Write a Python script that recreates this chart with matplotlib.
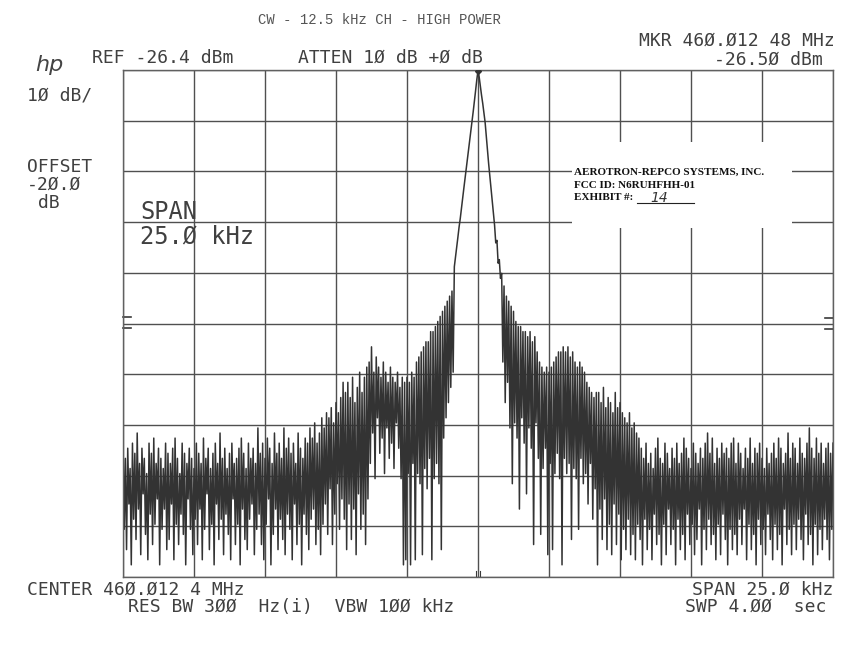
import numpy as np
import matplotlib
matplotlib.use('Agg')
from matplotlib import pyplot as plt
from matplotlib.patches import Rectangle

# analyzer settings
ref_level = -26.4      # dBm, top graticule line
db_per_div = 10
span_khz = 25.0

# trace levels in dBm, left to right across the sweep
left_floor = [
    -99, -117, -103, -121, -101, -112, -105, -124, -100, -115,
    -102, -119, -98, -113, -104, -122, -101, -110, -103, -118,
    -106, -123, -100, -114, -102, -120, -99, -116, -104, -111,
    -101, -124, -103, -117, -105, -113, -100, -121, -102, -119,
    -104, -112, -101, -123, -99, -116, -103, -120, -106, -114,
    -100, -118, -102, -124, -104, -111, -101, -117, -103, -122,
    -105, -115, -100, -120, -102, -113, -104, -123, -99, -117,
    -103, -110, -101, -121, -105, -116, -102, -124, -100, -112,
    -104, -119, -98, -115, -103, -122, -101, -114, -105, -118,
    -102, -123, -100, -111, -104, -120, -103, -116, -101, -124,
    -99, -113, -102, -119, -105, -121, -100, -115, -103, -112,
    -101, -122, -104, -117, -97, -114, -102, -120, -100, -123,
    -103, -116, -99, -111, -101, -124, -104, -118, -98, -113,
    -102, -121, -100, -115, -103, -119, -97, -122, -101, -114,
    -99, -117, -102, -123, -100, -112, -104, -120, -98, -116,
    -101, -124, -103, -114, -99, -118, -100, -121, -97, -115,
    -99, -113, -96, -120, -100, -117, -98, -122, -95, -116,
    -97,
]
left_shoulder = [
    -112, -94, -118, -95, -109, -93, -120, -96, -114, -92, -108, -94, -117, -91, -111, -88,
    -115, -90, -121, -88, -112, -91, -119, -87, -113, -92, -122, -89, -110, -86, -117, -90,
    -114, -87, -120, -85, -111,
    -84, -104, -81, -98, -86, -107, -83, -95, -85, -102, -87, -99, -84, -106, -86, -97,
    -88, -103, -85, -100, -87, -105, -88, -96, -86, -101, -89, -107, -87, -124, -88, -123,
    -87,
    -106, -88, -124, -86, -104, -87, -123, -84, -106, -83, -108, -82, -122, -81, -105, -80,
    -109, -80, -103, -78, -123, -78, -107, -77, -104, -76, -108, -75, -121, -74, -99, -73,
    -95, -72, -92, -71, -89, -70, -86,
]
main_lobe = [
    -65.2, -63.3, -61.3, -59.4, -57.4, -55.7, -53.7, -51.8, -49.8, -47.9,
    -46.0, -44.0, -42.2, -40.3, -38.4, -36.4, -34.5, -32.5, -30.4, -28.3,
    -26.5, -27.8, -29.6, -31.4, -33.0, -34.9, -36.7, -39.5, -42.2, -44.9,
    -47.3, -49.7, -52.2, -54.6, -57.0, -60.5, -60.0, -64.5, -63.8, -67.5,
    -66.5,
]
right_shoulder = [
    -84, -69, -92, -71, -88, -72, -97, -73, -108, -74,
    -96, -76, -99, -77, -113, -77, -95, -78, -100, -78,
    -110, -79, -97, -78, -101, -80, -120, -79, -96, -82,
    -103, -84, -118, -85, -105, -86, -101, -85, -122, -86,
    -104, -85, -121, -84, -106, -83, -102, -82, -107, -82,
    -124, -81, -103, -82, -106, -81, -104, -83, -119, -82,
    -105, -84, -107, -85, -117, -84, -103, -85, -108, -86,
    -106, -88, -112, -89, -104, -90, -115, -91, -109, -90,
    -124, -90, -113, -92, -119, -89, -111, -93, -121, -91,
    -116, -92, -122, -94, -112, -90, -120, -93, -114, -92,
    -123, -94, -117, -95, -121, -96, -115, -94, -122, -97,
    -118, -96, -123, -98, -116, -99,
]
right_floor = [
    -119, -101, -124, -103, -115, -100, -121, -104, -117, -102,
    -123, -105, -114, -101, -120, -99, -118, -103, -124, -104,
    -116, -100, -122, -102, -113, -105, -120, -101, -117, -103,
    -124, -100, -115, -104, -121, -102, -118, -99, -123, -101,
    -114, -103, -120, -105, -116, -100, -122, -102, -119, -104,
    -113, -101, -124, -103, -117, -100, -121, -98, -115, -102,
    -120, -99, -118, -104, -123, -101, -116, -103, -122, -100,
    -114, -102, -119, -101, -124, -103, -117, -100, -121, -99,
    -118, -104, -122, -100, -115, -102, -120, -105, -113, -101,
    -123, -103, -116, -99, -121, -104, -118, -101, -124, -102,
    -115, -100, -120, -103, -117, -105, -122, -101, -114, -104,
    -119, -102, -123, -100, -116, -103, -121, -99, -118, -101,
    -124, -104, -113, -102, -120, -98, -117, -103, -122, -100,
    -116, -101, -121, -104, -115, -99, -119, -102, -123, -103,
    -114, -100, -120, -97, -118, -101, -124, -103, -116, -99,
    -122, -102, -117, -100, -121, -104, -115, -101, -119, -100,
    -123, -102, -117, -100,
]

level = np.array(left_floor + left_shoulder + main_lobe + right_shoulder + right_floor)
freq = np.linspace(-span_khz / 2, span_khz / 2, len(level))

W, H = 855, 650
fig = plt.figure(figsize=(W / 100, H / 100), dpi=100)
ax = fig.add_axes([123 / W, 1 - 577 / H, 710 / W, 507 / H])

bottom = ref_level - 10 * db_per_div
ax.set_xlim(-span_khz / 2, span_khz / 2)
ax.set_ylim(bottom, ref_level)
ax.set_xticks(np.linspace(-span_khz / 2, span_khz / 2, 11))
ax.set_yticks(np.linspace(bottom, ref_level, 11))
ax.tick_params(length=0, labelbottom=False, labelleft=False)
ax.set_axisbelow(True)
ax.grid(True, color='#505050', lw=1.0)
for s in ax.spines.values():
    s.set_color('#606060')
    s.set_linewidth(1.0)

# white paper where the exhibit stamp was pasted over the graticule
ax.add_patch(Rectangle((0.632, 0.688), 0.31, 0.170, transform=ax.transAxes,
                       facecolor='white', edgecolor='none', zorder=1))

ax.plot(freq, level, color='#333333', lw=1.1, zorder=2)
pk = np.argmax(level)
ax.plot(freq[pk], level[pk], marker='D', ms=3, color='#333333', zorder=3)

# little reference markers on the graticule edges
for yy in (0.513, 0.491):
    ax.plot([0, 0.011], [yy, yy], color='#3a3a3a', lw=1.2, transform=ax.transAxes, clip_on=False)
for yy in (0.511, 0.489):
    ax.plot([0.989, 1.0], [yy, yy], color='#3a3a3a', lw=1.2, transform=ax.transAxes, clip_on=False)
for xx in (0.497, 0.503):
    ax.plot([xx, xx], [0, 0.012], color='#3a3a3a', lw=0.8, transform=ax.transAxes)


def put(x, y, s, **kw):
    kw.setdefault('va', 'center')
    fig.text(x / W, 1 - y / H, s, **kw)


hp = dict(family='DejaVu Sans Mono', size=13, color='#404040')

put(258, 20, 'CW - 12.5 kHz CH - HIGH POWER', family='Liberation Mono', size=10, color='#555555')

put(35, 65, 'hp', family='DejaVu Sans', style='italic', size=16, color='#444444')
put(92, 58, 'REF -26.4 dBm', **hp)
put(298, 58, 'ATTEN 1Ø dB +Ø dB', **hp)
put(835, 41, 'MKR 46Ø.Ø12 48 MHz', ha='right', **hp)
put(823, 60, '-26.5Ø dBm', ha='right', **hp)

put(27, 95, '1Ø dB/', **hp)
put(27, 167, 'OFFSET', **hp)
put(27, 185, '-2Ø.Ø', **hp)
put(27, 203, ' dB', **hp)

big = dict(family='DejaVu Sans Mono', size=17, color='#404040')
put(140, 212, 'SPAN', **big)
put(140, 237, '25.Ø kHz', **big)

put(27, 590, 'CENTER 46Ø.Ø12 4 MHz', **hp)
put(833, 590, 'SPAN 25.Ø kHz', ha='right', **hp)
put(128, 607, 'RES BW 3ØØ  Hz(i)  VBW 1ØØ kHz', **hp)
put(826, 607, 'SWP 4.ØØ  sec', ha='right', **hp)

# exhibit stamp
stamp = dict(family='Liberation Serif', size=8, weight='bold', color='#111111')
put(574, 172, 'AEROTRON-REPCO SYSTEMS, INC.', **stamp)
put(574, 185, 'FCC ID: N6RUHFHH-01', **stamp)
put(574, 198, 'EXHIBIT #:', **stamp)
fig.add_artist(plt.Line2D([637 / W, 694 / W], [1 - 203 / H, 1 - 203 / H], color='#222222', lw=0.8))
put(650, 198, '14', family='DejaVu Sans', style='italic', size=10, color='#333333')

fig.savefig('out.png', dpi=100, facecolor='white')
